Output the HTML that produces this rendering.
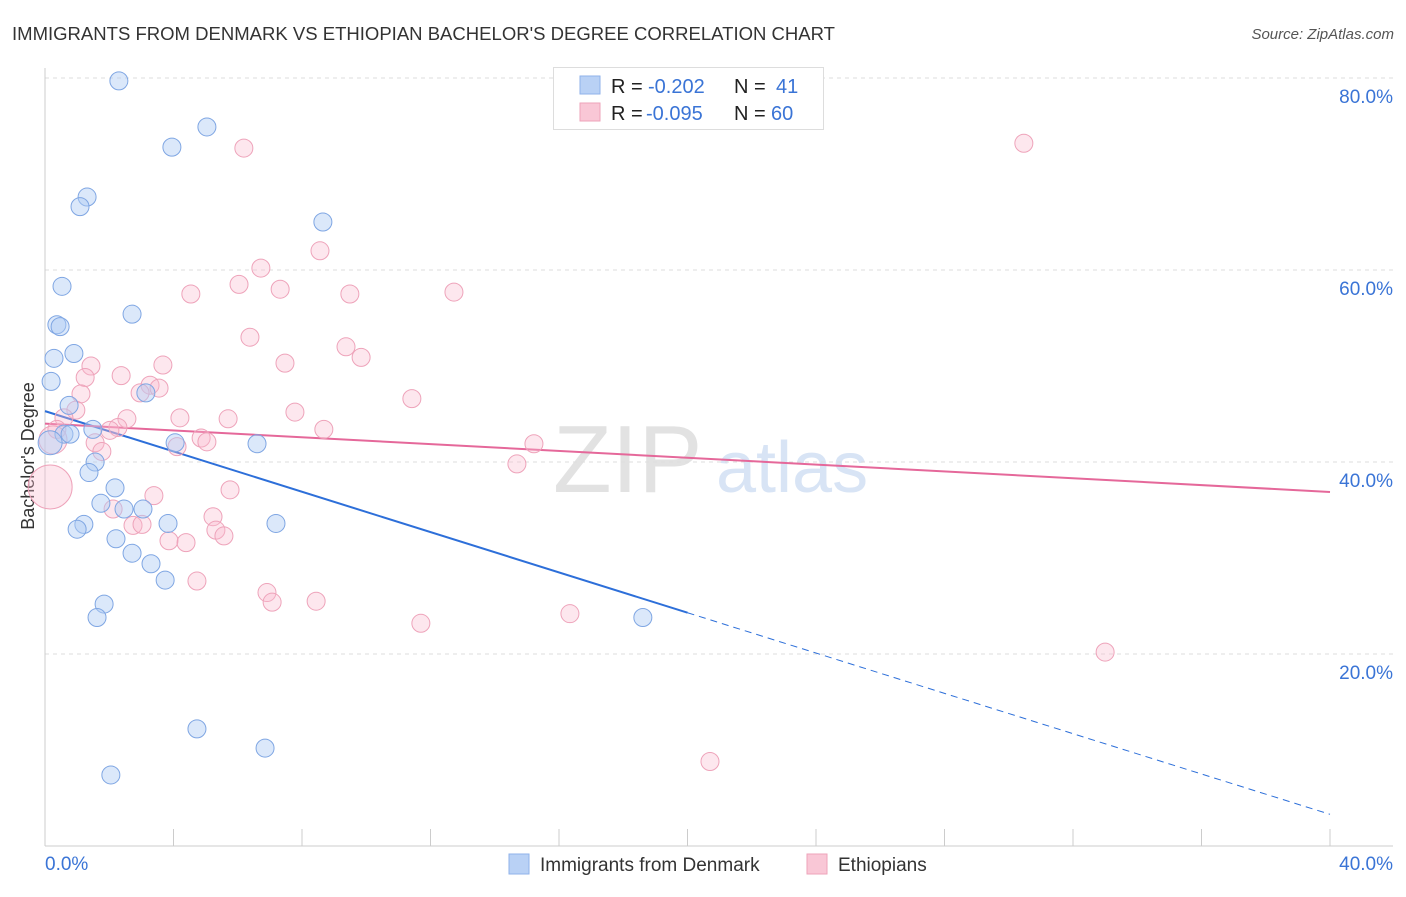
<!DOCTYPE html>
<html><head><meta charset="utf-8">
<style>
body{margin:0;background:#fff;font-family:"Liberation Sans",sans-serif;}
svg text{font-family:"Liberation Sans",sans-serif;}
</style></head>
<body>
<svg id="chart" width="1406" height="892" viewBox="0 0 1406 892">
<text x="12" y="40" font-size="18" fill="#333" textLength="823" lengthAdjust="spacingAndGlyphs">IMMIGRANTS FROM DENMARK VS ETHIOPIAN BACHELOR'S DEGREE CORRELATION CHART</text>
<text x="1394" y="39" font-size="15" fill="#555" font-style="italic" text-anchor="end">Source: ZipAtlas.com</text>
<text transform="translate(34,456) rotate(-90)" font-size="18" fill="#333" text-anchor="middle">Bachelor's Degree</text>
<g>
<text x="553" y="492" font-size="96" fill="#e2e2e2" font-family="Liberation Serif">ZIP</text>
<text x="716" y="492" font-size="72" fill="#d8e4f5">atlas</text>
</g>
<g id="grid"></g>
<g id="axes"></g>
<g id="lines"></g>
<g id="points"></g>
<g>
<rect x="553.5" y="67.5" width="270" height="62" fill="#fff" stroke="#ddd"/>
<rect x="580" y="76" width="20" height="18" fill="#b9d1f5" stroke="#8fb2ea"/>
<rect x="580" y="103" width="20" height="18" fill="#f9c7d6" stroke="#eea3ba"/>
<text x="611" y="93" font-size="20" fill="#222">R =</text>
<text x="648" y="93" font-size="20" fill="#3a74d6">-0.202</text>
<text x="734" y="93" font-size="20" fill="#222">N =</text>
<text x="776" y="93" font-size="20" fill="#3a74d6">41</text>
<text x="611" y="120" font-size="20" fill="#222">R =</text>
<text x="646" y="120" font-size="20" fill="#3a74d6">-0.095</text>
<text x="734" y="120" font-size="20" fill="#222">N =</text>
<text x="771" y="120" font-size="20" fill="#3a74d6">60</text>
</g>
<g>
<rect x="509" y="854" width="20" height="20" fill="#b9d1f5" stroke="#8fb2ea"/>
<text x="540" y="871" font-size="19" fill="#333">Immigrants from Denmark</text>
<rect x="807" y="854" width="20" height="20" fill="#f9c7d6" stroke="#eea3ba"/>
<text x="838" y="871" font-size="19" fill="#333">Ethiopians</text>
</g>
</svg>
<script>
const yTicks=[20,40,60,80];
const yTickLabels=["20.0%","40.0%","60.0%","80.0%"];
const xTicks=[0,4,8,12,16,20,24,28,32,36,40];
const denmarkX=[2.30,5.04,3.95,1.31,1.09,8.65,0.53,2.71,0.37,0.47,0.28,0.90,0.19,3.14,0.75,1.49,0.59,0.78,4.05,6.60,1.56,1.37,2.18,1.74,2.46,3.05,1.21,3.83,7.19,1.00,2.21,2.71,3.30,3.74,1.84,1.62,18.61,4.73,6.85,2.05,0.16];
const denmarkY=[79.7,74.9,72.8,67.6,66.6,65.0,58.3,55.4,54.3,54.1,50.8,51.3,48.4,47.2,45.9,43.4,42.9,42.9,42.0,41.9,40.0,38.9,37.3,35.7,35.1,35.1,33.5,33.6,33.6,33.0,32.0,30.5,29.4,27.7,25.2,23.8,23.8,12.2,10.2,7.4,42.0];
const ethX=[30.47,6.19,8.56,6.72,6.04,7.32,4.54,9.49,12.73,6.38,9.37,9.84,7.47,3.67,1.43,2.37,1.25,3.27,3.55,2.96,1.12,11.42,0.96,0.59,7.78,4.20,2.55,5.70,2.27,8.68,2.02,0.37,4.86,5.04,1.56,15.22,4.11,1.77,14.69,5.76,3.39,2.12,5.23,2.74,3.02,5.32,5.57,3.86,4.39,4.73,6.91,7.07,8.44,11.70,16.34,33.0,20.70,0.16,0.25];
const ethY=[73.2,72.7,62.0,60.2,58.5,58.0,57.5,57.5,57.7,53.0,52.0,50.9,50.3,50.1,50.0,49.0,48.8,48.0,47.7,47.2,47.1,46.6,45.4,44.6,45.2,44.6,44.5,44.5,43.6,43.4,43.3,43.4,42.5,42.1,42.0,41.9,41.6,41.1,39.8,37.1,36.5,35.1,34.3,33.4,33.5,32.9,32.3,31.8,31.6,27.6,26.4,25.4,25.5,23.2,24.2,20.2,8.8,37.4,42.3];
const ethR=[9,9,9,9,9,9,9,9,9,9,9,9,9,9,9,9,9,9,9,9,9,9,9,9,9,9,9,9,9,9,9,9,9,9,9,9,9,9,9,9,9,9,9,9,9,9,9,9,9,9,9,9,9,9,9,9,9,22,14];
const denmarkFit=[45.3,-1.05];
const ethFit=[44.0,-0.178];
const NS="http://www.w3.org/2000/svg";
const sx=v=>45+v*32.125, sy=v=>846-v*9.6;
function mk(tag,attrs,parent){const e=document.createElementNS(NS,tag);for(const k in attrs)e.setAttribute(k,attrs[k]);document.getElementById(parent).appendChild(e);return e;}
yTicks.forEach((t,i)=>{
 const l=mk('line',{x1:45,x2:1393,y1:sy(t),y2:sy(t),stroke:'#ddd','stroke-dasharray':'4,4'},'grid');
 
 
 const tx=mk('text',{x:1393,y:sy(t)+25,'font-size':19,fill:'#3a74d6','text-anchor':'end'},'grid');
 tx.textContent=yTickLabels[i];
 
 
});
const ax=mk('line',{x1:45,x2:1393,y1:846,y2:846,stroke:'#ccc'},'axes');


const ay=mk('line',{x1:45,x2:45,y1:68,y2:846,stroke:'#ccc'},'axes');


xTicks.forEach(t=>{
 const l=mk('line',{x1:sx(t),x2:sx(t),y1:829,y2:846,stroke:'#ccc'},'axes');
 
 
});
const xl0=mk('text',{x:45,y:870,'font-size':19,fill:'#3a74d6'},'axes');xl0.textContent='0.0%';


const xl1=mk('text',{x:1393,y:870,'font-size':19,fill:'#3a74d6','text-anchor':'end'},'axes');xl1.textContent='40.0%';


ethX.forEach((x,i)=>{
 const c=mk('circle',{cx:sx(x),cy:sy(ethY[i]),r:ethR[i],fill:'rgba(248,185,205,0.35)',stroke:'#eea3ba','stroke-width':1},'points');
 
 
});
denmarkX.forEach((x,i)=>{
 const c=mk('circle',{cx:sx(x),cy:sy(denmarkY[i]),r:i==40?12:9,fill:'rgba(175,204,245,0.45)',stroke:'#7fa6e3','stroke-width':1},'points');
 
 
});
const f=(p,x)=>p[0]+p[1]*x;
const b1=mk('line',{x1:sx(0),y1:sy(f(denmarkFit,0)),x2:sx(20),y2:sy(f(denmarkFit,20)),stroke:'#2d6fd9','stroke-width':2},'lines');


const b2=mk('line',{x1:sx(20),y1:sy(f(denmarkFit,20)),x2:sx(40),y2:sy(f(denmarkFit,40)),stroke:'#2d6fd9','stroke-width':1,'stroke-dasharray':'7,5'},'lines');


const p1=mk('line',{x1:sx(0),y1:sy(f(ethFit,0)),x2:sx(40),y2:sy(f(ethFit,40)),stroke:'#e5689a','stroke-width':2},'lines');


</script>
</body></html>
